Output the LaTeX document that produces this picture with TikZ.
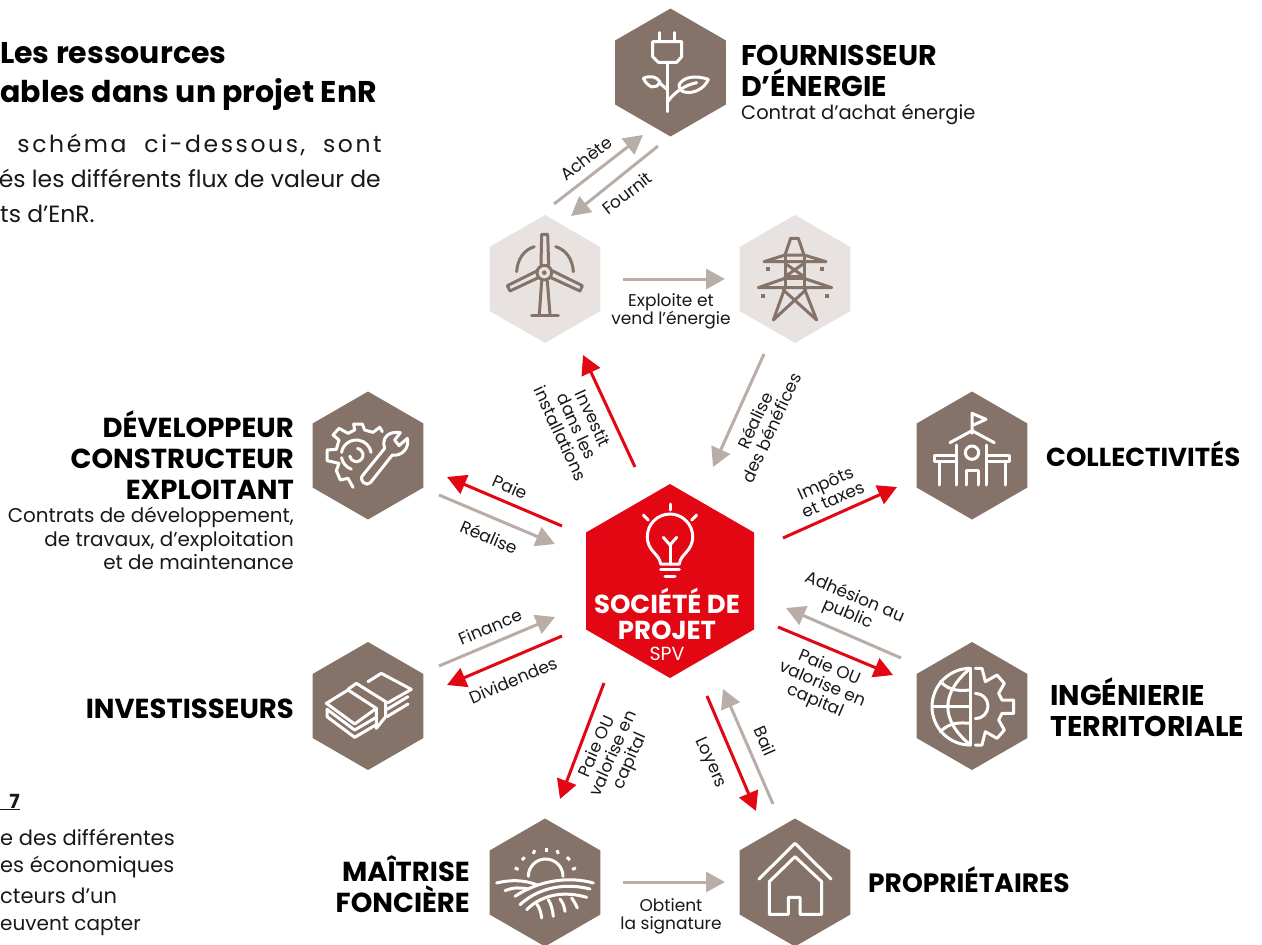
\documentclass[tikz,border=0pt]{standalone}
\usepackage{fontspec}
\setmainfont{Poppins}
\usetikzlibrary{shapes.geometric,arrows.meta}
\definecolor{hexBrun}{RGB}{133,115,105}
\definecolor{hexClair}{RGB}{232,227,224}
\definecolor{fluxGris}{RGB}{184,173,167}
\definecolor{fluxRouge}{RGB}{227,6,19}
\definecolor{texteNoir}{RGB}{26,23,27}
\tikzset{
  hexbase/.style={regular polygon,regular polygon sides=6,regular polygon rotate=30,inner sep=0pt,outer sep=0pt},
  hexbrun/.style={hexbase,fill=hexBrun,minimum size=128pt},
  hexclair/.style={hexbase,fill=hexClair,minimum size=128pt},
  hexspv/.style={hexbase,fill=fluxRouge,minimum size=194pt},
  fluxg/.style={-{Triangle[length=19pt,width=20pt]},line width=3pt,color=fluxGris},
  fluxr/.style={-{Triangle[length=19pt,width=20pt]},line width=3pt,color=fluxRouge},
  lbl/.style={inner sep=0pt,align=center,text=texteNoir,font=\fontsize{17}{18}\selectfont},
  nom/.style={inner sep=0pt,text=black,font=\fontsize{27.5}{31}\selectfont\bfseries},
  titre/.style={inner sep=0pt,text=black,font=\fontsize{30}{39}\selectfont\bfseries},
  corps/.style={inner sep=0pt,text=texteNoir,font=\fontsize{19.5}{23.5}\selectfont},
  para/.style={inner sep=0pt,text=texteNoir,font=\fontsize{23.5}{30}\selectfont},
  note/.style={inner sep=0pt,text=texteNoir,font=\fontsize{21}{30}\selectfont},
  iconb/.style={draw=white,line width=3pt,line cap=round,line join=round},
  iconm/.style={draw=hexBrun,line width=3pt,line cap=round,line join=round},
  zoomed/.style={x=0.33333pt,y=-0.33333pt}
}
\begin{document}
\begin{tikzpicture}[x=1pt,y=-1pt]
\useasboundingbox (0,0) rectangle (1262,945);
% hexagones
\node[hexbrun] (fournisseur) at (670.5,72.5) {};
\node[hexclair] (eolienne) at (545,279) {};
\node[hexclair] (pylone) at (795,279) {};
\node[hexbrun] (developpeur) at (368,455.5) {};
\node[hexbrun] (collectivites) at (972,455.5) {};
\node[hexbrun] (investisseurs) at (368,706) {};
\node[hexbrun] (ingenierie) at (972,706) {};
\node[hexbrun] (maitrise) at (545,882.5) {};
\node[hexbrun] (proprietaires) at (795,882.5) {};
\node[hexspv] (societe) at (670,581) {};
% noms
\node[nom,anchor=west,align=left,font=\fontsize{28.5}{31}\selectfont\bfseries] (nomFournisseur) at (741,71) {FOURNISSEUR\\D’ÉNERGIE};
\node[corps,anchor=west] (txtFournisseur) at (741,115) {Contrat d’achat énergie};
\node[nom,anchor=west,font=\fontsize{26}{31}\selectfont\bfseries] (nomCollectivites) at (1046,454) {COLLECTIVITÉS};
\node[nom,anchor=west,align=left,font=\fontsize{28.5}{31}\selectfont\bfseries] (nomIngenierie) at (1050,707) {INGÉNIERIE\\TERRITORIALE};
\node[nom,anchor=west,font=\fontsize{26.5}{31}\selectfont\bfseries] (nomProprietaires) at (868,879.5) {PROPRIÉTAIRES};
\node[nom,anchor=east,align=right] (nomMaitrise) at (470,884.5) {MAÎTRISE\\FONCIÈRE};
\node[nom,anchor=east] (nomInvestisseurs) at (294,709) {INVESTISSEURS};
\node[nom,anchor=east,align=right] (nomDeveloppeur) at (294,455.5) {DÉVELOPPEUR\\CONSTRUCTEUR\\EXPLOITANT};
\node[corps,anchor=east,align=right,font=\fontsize{19.9}{23.5}\selectfont] (txtDeveloppeur) at (294,538.5) {Contrats de développement,\\de travaux, d’exploitation\\et de maintenance};
\node[inner sep=0pt,text=white,align=center,font=\fontsize{26}{26}\selectfont\bfseries] (nomSociete) at (667,614) {SOCIÉTÉ DE\\PROJET};
\node[inner sep=0pt,text=white,font=\fontsize{19}{20}\selectfont] (nomSpv) at (667,654) {SPV};
% texte coupe a gauche
\node[titre,anchor=west] (titreA) at (0,53) {Les ressources};
\node[titre,anchor=east] (titreB) at (377,94) {ables dans un projet EnR};
\node[para,anchor=east] (paraA) at (382,145) {\addfontfeature{LetterSpace=11}schéma\hspace{9pt} ci-dessous,\hspace{9pt} sont};
\node[para,anchor=east] (paraB) at (381,178) {és les différents flux de valeur de};
\node[para,anchor=west] (paraC) at (0,214) {ts d’EnR.};
\node[note,anchor=east,font=\fontsize{19.5}{23.5}\selectfont\bfseries] (noteNum) at (20,802) {\underline{\ \ \ 7}};
\node[note,anchor=west] (noteA) at (0,837) {e des différentes};
\node[note,anchor=west] (noteB) at (0,867) {es économiques};
\node[note,anchor=west] (noteC) at (0,896) {cteurs d’un};
\node[note,anchor=west,font=\fontsize{20}{30}\selectfont] (noteD) at (0,926) {euvent capter};
% extremites des fleches
\coordinate (acheteD) at (554,204);    \coordinate (acheteF) at (643,135);
\coordinate (fournitD) at (658,146);   \coordinate (fournitF) at (571,216);
\coordinate (exploiteD) at (623,279);  \coordinate (exploiteF) at (725,279);
\coordinate (investitD) at (635,467);  \coordinate (investitF) at (583,355);
\coordinate (beneficeD) at (764,354);  \coordinate (beneficeF) at (713,467);
\coordinate (paieD) at (562,526);      \coordinate (paieF) at (447,477);
\coordinate (realiseD) at (439,495);   \coordinate (realiseF) at (555,544);
\coordinate (financeD) at (439,666);   \coordinate (financeF) at (555,617);
\coordinate (dividD) at (562,636);     \coordinate (dividF) at (447,685);
\coordinate (paiebasD) at (604,683);   \coordinate (paiebasF) at (560,799);
\coordinate (loyersD) at (707,696);    \coordinate (loyersF) at (756,811);
\coordinate (bailD) at (773,804);      \coordinate (bailF) at (723,689);
\coordinate (obtientD) at (623,882);   \coordinate (obtientF) at (725,882);
\coordinate (impotsD) at (783,538);    \coordinate (impotsF) at (897,487);
\coordinate (adhesionD) at (901,658);  \coordinate (adhesionF) at (786,608);
\coordinate (paiedroitD) at (778,627); \coordinate (paiedroitF) at (893,675);
% fleches
\draw[fluxg] (acheteD) -- (acheteF);
\draw[fluxg] (fournitD) -- (fournitF);
\draw[fluxg] (exploiteD) -- (exploiteF);
\draw[fluxr] (investitD) -- (investitF);
\draw[fluxg] (beneficeD) -- (beneficeF);
\draw[fluxr] (paieD) -- (paieF);
\draw[fluxg] (realiseD) -- (realiseF);
\draw[fluxg] (financeD) -- (financeF);
\draw[fluxr] (dividD) -- (dividF);
\draw[fluxr] (paiebasD) -- (paiebasF);
\draw[fluxr] (loyersD) -- (loyersF);
\draw[fluxg] (bailD) -- (bailF);
\draw[fluxg] (obtientD) -- (obtientF);
\draw[fluxr] (impotsD) -- (impotsF);
\draw[fluxg] (adhesionD) -- (adhesionF);
\draw[fluxr] (paiedroitD) -- (paiedroitF);
% etiquettes des fleches
\node[lbl,rotate=38] (lblAchete) at (586,158) {Achète};
\node[lbl,rotate=38] (lblFournit) at (627,193) {Fournit};
\node[lbl] (lblExploite) at (671,311) {Exploite et\\vend l’énergie};
\node[lbl,rotate=-65] (lblInvestit) at (577,426) {Investit\\dans les\\installations};
\node[lbl,rotate=65] (lblBenefice) at (763,424) {Réalise\\des bénéfices};
\node[lbl,rotate=-24] (lblPaie) at (510,487) {Paie};
\node[lbl,rotate=-23] (lblRealise) at (489,537) {Réalise};
\node[lbl,rotate=23] (lblFinance) at (490,627) {Finance};
\node[lbl,rotate=23] (lblDivid) at (513,680) {Dividendes};
\node[lbl,rotate=66] (lblPaiebas) at (614,754) {Paie OU\\valorise en\\capital};
\node[lbl,rotate=-66] (lblLoyers) at (710,763) {Loyers};
\node[lbl,rotate=-66] (lblBail) at (765,741) {Bail};
\node[lbl] (lblObtient) at (671,916) {Obtient\\la signature};
\node[lbl,rotate=24] (lblImpots) at (829,491) {Impôts\\et taxes};
\node[lbl,rotate=-23] (lblAdhesion) at (851,606) {Adhésion au\\public};
\node[lbl,rotate=-23] (lblPaiedroit) at (822,685) {Paie OU\\valorise en\\capital};
% icone prise et plante
\begin{scope}[shift={(615,20)},zoomed]
  \draw[iconb] (133,38) -- (133,65);
  \draw[iconb] (178,38) -- (178,65);
  \draw[iconb] (113,65) -- (200,65) -- (200,110) -- (185,127) -- (130,127) -- (113,110) -- cycle;
  \draw[iconb] (156,127) -- (156,275);
  \draw[iconb] (85,175) .. controls (105,165) and (125,170) .. (135,185) .. controls (125,210) and (100,205) .. (85,175);
  \draw[iconb] (135,190) -- (156,208);
  \draw[iconb] (280,178) .. controls (240,165) and (205,170) .. (192,195) .. controls (190,230) and (260,225) .. (280,178);
  \draw[iconb] (158,245) .. controls (180,215) and (210,195) .. (245,188);
\end{scope}
% icone eolienne
\begin{scope}[shift={(490,225)},zoomed]
  \draw[iconm] (163,143) circle (22);
  \fill[hexBrun] (163,143) circle (7);
  \draw[iconm] (153,120) -- (155,28) -- (173,28) -- (176,120);
  \draw[iconm] (155,168) -- (148,268);
  \draw[iconm] (172,168) -- (180,268);
  \draw[iconm] (125,270) -- (205,270);
  \draw[iconm] (142,137) -- (52,182) -- (60,198) -- (145,158);
  \draw[iconm] (186,137) -- (277,182) -- (270,198) -- (183,158);
  \draw[iconm] (133,65) .. controls (100,75) and (82,105) .. (80,140);
  \draw[iconm] (197,65) .. controls (230,75) and (248,105) .. (250,140);
\end{scope}
% icone pylone
\begin{scope}[shift={(740,225)},zoomed]
  \draw[iconm] (135,90) -- (152,40) -- (175,40) -- (192,90);
  \draw[iconm] (72,110) -- (135,90) -- (192,90) -- (258,110) -- cycle;
  \draw[iconm] (135,90) -- (135,188);
  \draw[iconm] (192,90) -- (192,188);
  \draw[iconm] (135,115) -- (192,155);
  \draw[iconm] (192,115) -- (135,155);
  \draw[iconm] (135,155) -- (192,155);
  \draw[iconm] (55,188) -- (135,160) -- (192,160) -- (275,188) -- cycle;
  \draw[iconm] (135,188) -- (100,285) -- (197,195);
  \draw[iconm] (192,188) -- (230,285) -- (130,195);
  \foreach \x/\y in {85/132,245/132,68/212,260/212}
    \fill[hexBrun] (\x-6,\y-6) rectangle (\x+6,\y+6);
\end{scope}
% icone engrenage et cle
\begin{scope}[shift={(313,400)},zoomed]
  \draw[iconb] (120,262) -- (105,235) -- (82,240) -- (70,212) -- (78,190) -- (42,182) -- (42,150) -- (70,148) -- (78,120) -- (60,105) -- (78,85) -- (105,100) -- (125,90) -- (122,72) -- (148,72) -- (155,90) -- (180,97) -- (200,82) -- (208,95);
  \draw[iconb] ([shift={(110:45)}]130,165) arc (110:170:45);
  \draw[iconb] ([shift={(190:45)}]130,165) arc (190:350:45);
  \draw[iconb] ([shift={(-80:20)}]130,165) arc (-80:170:20);
  \draw[iconb] (150,225) -- (215,145) .. controls (205,115) and (225,92) .. (262,98) -- (245,120) -- (258,137) -- (283,115) .. controls (290,145) and (265,170) .. (238,165) -- (172,248) .. controls (160,262) and (135,240) .. (150,225);
\end{scope}
% icone billets
\begin{scope}[shift={(313,650)},zoomed]
  \draw[iconb] (165,95) -- (205,70) -- (295,118) -- (225,158);
  \draw[iconb] (285,140) -- (222,178);
  \draw[iconb] (285,162) -- (222,200);
  \draw[iconb] (105,118) -- (130,100) -- (218,155) -- (218,200) -- (190,235) -- (190,175);
  \draw[iconb] (40,160) -- (105,120) -- (190,175) -- (125,222) -- cycle;
  \draw[iconb] (42,178) -- (125,240) -- (188,203);
  \draw[iconb] (42,178) -- (42,200) -- (125,262) -- (188,225);
\end{scope}
% icone champs
\begin{scope}[shift={(490,828)},zoomed]
  \draw[iconb] ([shift={(180:52)}]167,145) arc (180:360:52);
  \foreach \x/\y/\a in {80/122/25,100/92/-45,132/72/-70,168/65/90,203/72/70,235/92/45,252/122/-25}
    \draw[white,line width=3pt] (\x,\y) ++(\a:6) -- ++(\a:-12);
  \draw[iconb] (20,165) .. controls (60,155) and (100,155) .. (140,170);
  \draw[iconb] (310,165) .. controls (240,145) and (150,155) .. (75,205);
  \draw[iconb] (45,188) .. controls (70,178) and (90,178) .. (115,183);
  \draw[iconb] (300,183) .. controls (230,165) and (150,175) .. (90,230);
  \draw[iconb] (290,208) .. controls (230,190) and (160,195) .. (110,245);
  \draw[iconb] (140,228) .. controls (150,240) and (153,255) .. (155,270);
  \draw[iconb] (175,215) .. controls (185,230) and (188,250) .. (190,265);
  \draw[iconb] (210,213) .. controls (220,225) and (223,238) .. (225,250);
  \draw[iconb] (245,210) .. controls (252,220) and (258,230) .. (262,240);
\end{scope}
% icone globe
\begin{scope}[shift={(917,650)},zoomed]
  \draw[iconb] (160,55) -- (160,285);
  \draw[iconb] (160,55) arc (270:90:115);
  \draw[iconb] (160,55) .. controls (70,130) and (70,210) .. (160,285);
  \draw[iconb] (45,170) -- (160,170);
  \draw[iconb] (70,95) .. controls (100,125) and (130,122) .. (160,120);
  \draw[iconb] (70,245) .. controls (100,215) and (130,218) .. (160,220);
  \draw[iconb] (175,55) -- (195,55) -- (205,95) -- (240,75) -- (262,100) -- (245,130) -- (255,150) -- (290,150) -- (290,190) -- (255,190) -- (245,210) -- (262,240) -- (240,265) -- (205,245) -- (195,285) -- (175,285);
  \draw[iconb] (175,130) arc (-90:90:38);
\end{scope}
% icone ecole
\begin{scope}[shift={(760,380)},zoomed]
  \draw[iconb] (636,160) -- (636,100) -- (678,118) -- (640,135);
  \draw[iconb] (570,188) -- (636,152) -- (703,188);
  \draw[iconb] (590,195) -- (590,315);
  \draw[iconb] (680,195) -- (680,315);
  \draw[iconb] (636,218) circle (20);
  \draw[iconb] (618,315) -- (618,270) -- (655,270) -- (655,315);
  \draw[iconb] (590,225) -- (522,225) -- (522,245) -- (590,245);
  \draw[iconb] (680,225) -- (748,225) -- (748,245) -- (680,245);
  \draw[iconb] (537,245) -- (537,315);
  \draw[iconb] (735,245) -- (735,315);
\end{scope}
% icone maison
\begin{scope}[shift={(480,680)},zoomed]
  \draw[iconb] (837,597) -- (945,490) -- (1053,597);
  \draw[iconb] (868,605) -- (945,530) -- (1025,605) -- (1025,703) -- (960,703) -- (960,652) -- (925,652) -- (925,703) -- (868,703) -- cycle;
\end{scope}
% icone ampoule
\begin{scope}[shift={(300,380)},zoomed]
  \draw[iconb] (1082,552) .. controls (1078,520) and (1042,515) .. (1042,470) .. controls (1042,430) and (1075,402) .. (1110,402) .. controls (1145,402) and (1178,430) .. (1178,470) .. controls (1178,515) and (1142,520) .. (1138,552) -- cycle;
  \draw[iconb] (1110,552) -- (1110,495);
  \draw[iconb] (1090,472) -- (1110,495) -- (1130,472);
  \draw[iconb] (1082,568) -- (1138,568);
  \draw[iconb] (1095,590) -- (1125,590);
  \draw[iconb] (1110,372) -- (1110,390);
  \draw[iconb] (1030,405) -- (1045,420);
  \draw[iconb] (1190,405) -- (1175,420);
\end{scope}
\end{tikzpicture}
\end{document}
